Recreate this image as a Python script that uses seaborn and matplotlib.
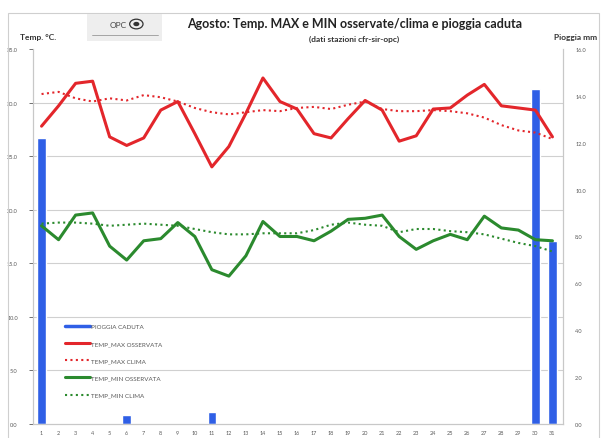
import numpy as np
import matplotlib
matplotlib.use('Agg')
import matplotlib.pyplot as plt
from matplotlib.lines import Line2D
from matplotlib.patches import Rectangle, Circle
import seaborn as sns

# Dati di agosto
days = list(range(1, 32))
tmax_oss = [27.8, 29.7, 31.8, 32.0, 26.8, 26.0, 26.7, 29.3, 30.1, 27.1,
            24.0, 25.9, 29.0, 32.3, 30.1, 29.4, 27.1, 26.7, 28.5, 30.2,
            29.3, 26.4, 26.9, 29.4, 29.5, 30.7, 31.7, 29.7, 29.5, 29.3, 26.8]
tmax_clima = [30.8, 31.0, 30.4, 30.1, 30.4, 30.2, 30.7, 30.5, 30.1, 29.5,
              29.1, 28.9, 29.1, 29.3, 29.2, 29.5, 29.6, 29.4, 29.8, 30.1,
              29.4, 29.2, 29.2, 29.3, 29.2, 29.0, 28.6, 27.9, 27.4, 27.2, 26.6]
tmin_oss = [18.5, 17.2, 19.5, 19.7, 16.6, 15.3, 17.1, 17.3, 18.8, 17.5,
            14.4, 13.8, 15.7, 18.9, 17.5, 17.5, 17.1, 18.0, 19.1, 19.2,
            19.5, 17.5, 16.3, 17.1, 17.7, 17.2, 19.4, 18.3, 18.1, 17.2, 17.1]
tmin_clima = [18.7, 18.8, 18.8, 18.7, 18.5, 18.6, 18.7, 18.6, 18.5, 18.2,
              17.9, 17.7, 17.7, 17.8, 17.8, 17.8, 18.1, 18.6, 18.8, 18.6,
              18.5, 17.9, 18.2, 18.2, 18.0, 17.9, 17.7, 17.3, 16.9, 16.6, 16.1]
pioggia = [12.2, 0, 0, 0, 0, 0.4, 0, 0, 0, 0,
           0.5, 0, 0, 0, 0, 0, 0, 0, 0, 0,
           0, 0, 0, 0, 0, 0, 0, 0, 0, 14.3, 7.8]

temp_ticks = np.arange(0, 36, 5)
rain_ticks = np.arange(0, 17, 2)

RED = '#e3262b'
GREEN = '#2b8a2e'
BLUE = '#2f5fe6'
GRAY = '#595959'
DOTS = (0, (1, 1.6))

sns.set_theme(style='white')
plt.rcParams['font.family'] = ['Lato', 'DejaVu Sans']

fig = plt.figure(figsize=(6.06, 4.39), dpi=100)
ax = fig.add_axes([0.0545, 0.032, 0.874, 0.854])
ax2 = ax.twinx()

# pioggia (asse destro)
sns.barplot(x=days, y=pioggia, native_scale=True, width=0.5, color=BLUE,
            saturation=1, errorbar=None, ax=ax2)

# temperature (asse sinistro)
sns.lineplot(x=days, y=tmax_oss, ax=ax, color=RED, lw=2.2)
sns.lineplot(x=days, y=tmax_clima, ax=ax, color=RED, lw=1.5, linestyle=DOTS)
sns.lineplot(x=days, y=tmin_oss, ax=ax, color=GREEN, lw=2.2)
sns.lineplot(x=days, y=tmin_clima, ax=ax, color=GREEN, lw=1.5, linestyle=DOTS)

ax.set_zorder(ax2.get_zorder() + 1)
ax.patch.set_visible(False)

ax.set_xlim(0.5, 31.6)
ax.set_ylim(0, 35)
ax2.set_ylim(0, 16)
ax.set_yticks(temp_ticks)
ax.set_yticklabels([f'{v:.1f}' for v in temp_ticks])
ax2.set_yticks(rain_ticks)
ax2.set_yticklabels([f'{v:.1f}' for v in rain_ticks])
ax.set_xticks(days)
ax.set_xticklabels([str(d) for d in days])
ax.set_xticks(np.arange(0.5, 32, 1), minor=True)

# griglia orizzontale dietro le barre
ax2.set_yticks(temp_ticks * 16 / 35, minor=True)
ax2.grid(which='minor', axis='y', color='#d0d0d0', lw=0.8)
ax2.tick_params(which='minor', length=0)

ax.tick_params(axis='y', labelsize=4, colors=GRAY, length=3, width=0.6, pad=8)
ax.tick_params(axis='x', which='major', labelsize=4, colors=GRAY, length=0, pad=4)
ax.tick_params(axis='x', which='minor', length=2, width=0.6, color='#bfbfbf')
ax2.tick_params(axis='y', which='major', labelsize=4, colors=GRAY, length=0, pad=9)
ax.set_xlabel('')
ax.set_ylabel('')
ax2.set_ylabel('')

for a in (ax, ax2):
    for s in a.spines.values():
        s.set_color('#c8c8c8')
        s.set_linewidth(0.8)
    a.spines['top'].set_visible(False)

handles = [
    Line2D([], [], color=BLUE, lw=2.5),
    Line2D([], [], color=RED, lw=2.2),
    Line2D([], [], color=RED, lw=1.5, linestyle=DOTS),
    Line2D([], [], color=GREEN, lw=2.2),
    Line2D([], [], color=GREEN, lw=1.5, linestyle=DOTS),
]
labels = ['PIOGGIA CADUTA', 'TEMP_MAX OSSERVATA', 'TEMP_MAX CLIMA',
          'TEMP_MIN OSSERVATA', 'TEMP_MIN CLIMA']
leg = ax.legend(handles, labels, loc='lower left', bbox_to_anchor=(0.05, 0.055),
                frameon=False, fontsize=4.5, labelspacing=1.9, handlelength=4.0,
                handletextpad=0.2)
for t in leg.get_texts():
    t.set_color(GRAY)

# testi intestazione
fig.text(0.585, 0.945, 'Agosto: Temp. MAX e MIN osservate/clima e pioggia caduta',
         ha='center', va='center', fontsize=9, fontweight='bold', color='#222222')
fig.text(0.585, 0.91, '(dati stazioni cfr-sir-opc)', ha='center', va='center',
         fontsize=6, fontweight='bold', color='#333333')
fig.text(0.033, 0.914, 'Temp. °C.', ha='left', va='center', fontsize=6,
         fontweight='bold', color='#333333')
fig.text(0.985, 0.914, 'Pioggia mm', ha='right', va='center', fontsize=6,
         fontweight='bold', color='#333333')

# cornice e logo
fig.patches.append(Rectangle((0.013, -0.01), 0.975, 0.978, transform=fig.transFigure,
                             fill=False, edgecolor='#cfcfcf', lw=0.8))
fig.patches.append(Rectangle((0.144, 0.905), 0.124, 0.06, transform=fig.transFigure,
                             facecolor='#eeeeee', edgecolor='none'))
fig.text(0.195, 0.943, 'OPC', ha='center', va='center', fontsize=6, color='#444444')
fig.patches.append(Circle((0.225, 0.943), 0.011, transform=fig.transFigure,
                          fill=False, edgecolor='#333333', lw=0.9))
fig.patches.append(Circle((0.225, 0.943), 0.005, transform=fig.transFigure,
                          facecolor='#333333', edgecolor='none'))
fig.add_artist(Line2D([0.152, 0.26], [0.917, 0.917], transform=fig.transFigure,
                      color='#999999', lw=0.6))

fig.savefig('out.png', dpi=100)
